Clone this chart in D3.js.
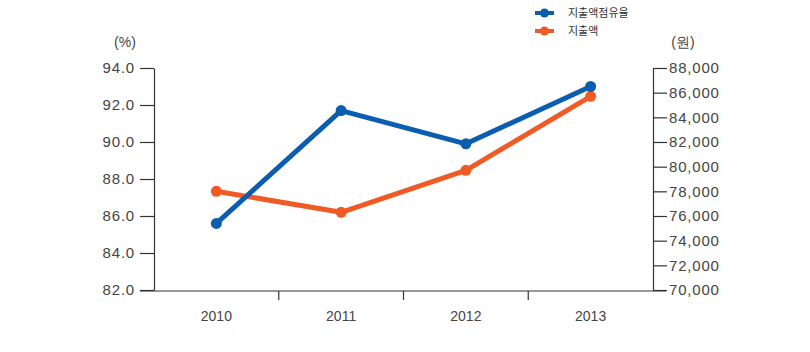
<!DOCTYPE html>
<html>
<head>
<meta charset="utf-8">
<script src="https://cdn.jsdelivr.net/npm/d3@7"></script>
<style>
  body { margin: 0; background: #fff; }
  text { font-family: "Liberation Sans", Arial, sans-serif; }
</style>
</head>
<body>
<svg id="chart" width="810" height="352"></svg>
<script>
// data
const years = ["2010", "2011", "2012", "2013"];
const shareValues = [85.6, 91.7, 89.9, 93.0];      // 지출액점유율 (%)
const spendValues = [78000, 76300, 79700, 85700];  // 지출액 (원)
const leftTicks = [82, 84, 86, 88, 90, 92, 94];
const rightTicks = [70000, 72000, 74000, 76000, 78000, 80000, 82000, 84000, 86000, 88000];
const seriesNames = ["지출액점유율", "지출액"];

const blue = "#0b5db0";
const orange = "#f05a24";
const textColor = "#444";

const svg = d3.select("#chart");
const margin = { top: 68, bottom: 291, left: 154, right: 653 };

const x = d3.scaleBand().domain(years).range([margin.left, margin.right]);
const yLeft = d3.scaleLinear().domain([82, 94]).range([margin.bottom - 1, margin.top]);
const yRight = d3.scaleLinear().domain([70000, 88000]).range([margin.bottom - 1, margin.top]);

// left axis
const gl = svg.append("g")
    .attr("transform", `translate(${margin.left},0)`)
    .call(d3.axisLeft(yLeft).tickValues(leftTicks).tickSizeInner(14).tickSizeOuter(0)
        .tickPadding(5).tickFormat(d3.format(".1f")));

// right axis
const gr = svg.append("g")
    .attr("transform", `translate(${margin.right},0)`)
    .call(d3.axisRight(yRight).tickValues(rightTicks).tickSizeInner(14).tickSizeOuter(0)
        .tickPadding(2).tickFormat(d3.format(",")));

[gl, gr].forEach(g => {
    g.select(".domain").attr("stroke", "#333").attr("stroke-width", 1.2);
    g.selectAll(".tick line").attr("stroke", "#333").attr("stroke-width", 1.2);
    g.selectAll(".tick text").attr("fill", textColor)
        .style("font-size", "15px").style("letter-spacing", "0.8px");
});

// bottom axis
const gx = svg.append("g")
    .attr("transform", `translate(0,${margin.bottom})`)
    .call(d3.axisBottom(x).tickSize(0).tickPadding(20));
gx.select(".domain").remove();
gx.selectAll(".tick text").attr("fill", textColor).style("font-size", "14px");

gx.append("line")
    .attr("x1", margin.left - 14).attr("x2", margin.right + 13)
    .attr("stroke", "#333").attr("stroke-width", 1.2);

gx.selectAll(".sep")
    .data(years.slice(0, -1))
    .join("line")
    .attr("class", "sep")
    .attr("x1", d => x(d) + x.bandwidth())
    .attr("x2", d => x(d) + x.bandwidth())
    .attr("y1", 0).attr("y2", 9)
    .attr("stroke", "#333").attr("stroke-width", 1.2);

// unit labels
svg.append("text").attr("x", 125).attr("y", 47).attr("text-anchor", "middle")
    .attr("fill", textColor).style("font-size", "14px").text("(%)");
svg.append("text").attr("x", 683).attr("y", 47).attr("text-anchor", "middle")
    .attr("fill", textColor).style("font-size", "14px").text("(원)");

// lines
const series = [
    { name: seriesNames[0], values: shareValues, y: yLeft, color: blue },
    { name: seriesNames[1], values: spendValues, y: yRight, color: orange }
];

series.slice().reverse().forEach(s => {
    const line = d3.line()
        .x((d, i) => x(years[i]) + x.bandwidth() / 2)
        .y(d => s.y(d));
    svg.append("path")
        .datum(s.values)
        .attr("d", line)
        .attr("fill", "none")
        .attr("stroke", s.color)
        .attr("stroke-width", 5)
        .attr("stroke-linejoin", "round");
    svg.append("g").selectAll("circle")
        .data(s.values)
        .join("circle")
        .attr("cx", (d, i) => x(years[i]) + x.bandwidth() / 2)
        .attr("cy", d => s.y(d))
        .attr("r", 5.5)
        .attr("fill", s.color);
});

// legend
const legend = svg.append("g").attr("transform", "translate(535,13)");
series.forEach((s, i) => {
    const g = legend.append("g").attr("transform", `translate(0,${i * 18})`);
    g.append("line").attr("x1", 0).attr("x2", 19)
        .attr("stroke", s.color).attr("stroke-width", 4);
    g.append("circle").attr("cx", 9.5).attr("r", 4.5).attr("fill", s.color);
    g.append("text").attr("x", 33).attr("y", 4)
        .attr("fill", "#333").style("font-size", "11px")
        .style("font-family", "'Noto Sans CJK KR', sans-serif")
        .text(s.name);
});
</script>
</body>
</html>
